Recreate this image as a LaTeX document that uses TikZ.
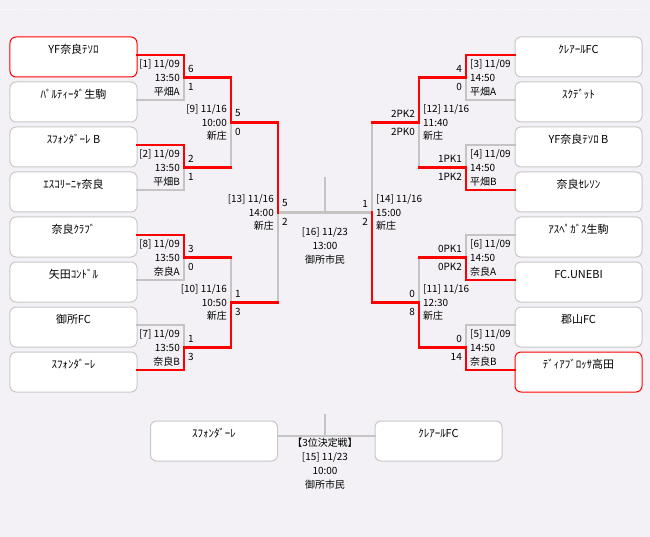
\documentclass[tikz,border=0pt]{standalone}
\usepackage{fontspec}
\newfontfamily\jp{Noto Sans CJK JP}
\definecolor{bg}{HTML}{F3F1F5}
\definecolor{bxgray}{HTML}{C8C8C8}
\definecolor{lngray}{HTML}{C4C4C4}
\definecolor{rd}{HTML}{FF0000}
\newcommand\mymatchL[4]{%
  \node[lblL] (m#1) at ([xshift=-4bp]j#1) {#2};
  \node[scW] (m#1a) at ([xshift=4bp,yshift=9bp]j#1) {#3};
  \node[scW] (m#1b) at ([xshift=4bp,yshift=-9.5bp]j#1) {#4};}
\newcommand\mymatchR[4]{%
  \node[lblR] (m#1) at ([xshift=4bp]j#1) {#2};
  \node[scE] (m#1a) at ([xshift=-4bp,yshift=9bp]j#1) {#3};
  \node[scE] (m#1b) at ([xshift=-4bp,yshift=-9.5bp]j#1) {#4};}
\begin{document}
\begin{tikzpicture}[x=1bp,y=-1bp,
  team/.style={draw=bxgray, fill=white, rounded corners=6bp, minimum width=127bp, minimum height=40bp, inner sep=0pt, line width=1bp},
  fin/.style={team, draw=rd},
  tname/.style={font=\jp\fontsize{11}{13}\selectfont, inner sep=0pt},
  lbl/.style={font=\jp\fontsize{10}{14}\selectfont, inner sep=0pt},
  lblL/.style={lbl, anchor=east, align=right},
  lblR/.style={lbl, anchor=west, align=left},
  lblC/.style={lbl, anchor=center, align=center},
  scW/.style={font=\jp\fontsize{10}{12}\selectfont, inner sep=0pt, anchor=west},
  scE/.style={font=\jp\fontsize{10}{12}\selectfont, inner sep=0pt, anchor=east},
  win/.style={draw=rd, line width=2.5bp, line cap=rect},
  lose/.style={draw=lngray, line width=2.5bp, line cap=rect},
]
\useasboundingbox (0,0) rectangle (650,537);
\fill[bg] (0,0) rectangle (650,537);
\draw[white, line width=1bp, dash pattern=on 1bp off 2bp] (0,9.5) -- (650,9.5);

% left teams
\node[fin]  (L1) at (73.5,57) {};
\node[team] (L2) at (73.5,102) {};
\node[team] (L3) at (73.5,147) {};
\node[team] (L4) at (73.5,192) {};
\node[team] (L5) at (73.5,237) {};
\node[team] (L6) at (73.5,282) {};
\node[team] (L7) at (73.5,327) {};
\node[team] (L8) at (73.5,372) {};
% right teams
\node[team] (R1) at (578.5,57) {};
\node[team] (R2) at (578.5,102) {};
\node[team] (R3) at (578.5,147) {};
\node[team] (R4) at (578.5,192) {};
\node[team] (R5) at (578.5,237) {};
\node[team] (R6) at (578.5,282) {};
\node[team] (R7) at (578.5,327) {};
\node[fin]  (R8) at (578.5,372) {};

\node[tname] (L1n) at ([yshift=-13bp]L1.north) {YF奈良ﾃｿﾛ};
\node[tname] (L2n) at ([yshift=-13bp]L2.north) {ﾊﾟﾙﾃｨｰﾀﾞ生駒};
\node[tname] (L3n) at ([yshift=-13bp]L3.north) {ｽﾌｫﾝﾀﾞｰﾚ B};
\node[tname] (L4n) at ([yshift=-13bp]L4.north) {ｴｽｺﾘｰﾆｬ奈良};
\node[tname] (L5n) at ([yshift=-13bp]L5.north) {奈良ｸﾗﾌﾞ};
\node[tname] (L6n) at ([yshift=-13bp]L6.north) {矢田ｺﾝﾄﾞﾙ};
\node[tname] (L7n) at ([yshift=-13bp]L7.north) {御所FC};
\node[tname] (L8n) at ([yshift=-13bp]L8.north) {ｽﾌｫﾝﾀﾞｰﾚ};
\node[tname] (R1n) at ([yshift=-13bp]R1.north) {ｸﾚｱｰﾙFC};
\node[tname] (R2n) at ([yshift=-13bp]R2.north) {ｽｸﾃﾞｯﾄ};
\node[tname] (R3n) at ([yshift=-13bp]R3.north) {YF奈良ﾃｿﾛ B};
\node[tname] (R4n) at ([yshift=-13bp]R4.north) {奈良ｾﾚｿﾝ};
\node[tname] (R5n) at ([yshift=-13bp]R5.north) {ｱｽﾍﾟｶﾞｽ生駒};
\node[tname] (R6n) at ([yshift=-13bp]R6.north) {FC.UNEBI};
\node[tname] (R7n) at ([yshift=-13bp]R7.north) {郡山FC};
\node[tname] (R8n) at ([yshift=-13bp]R8.north) {ﾃﾞｨｱﾌﾞﾛｯｻ高田};

% junctions
\coordinate (j1) at (184,77.5);
\coordinate (j2) at (184,167.5);
\coordinate (j8) at (184,257.5);
\coordinate (j7) at (184,347.5);
\coordinate (j9) at (231,122.5);
\coordinate (j10) at (231,302.5);
\coordinate (j13) at (278,212.5);
\coordinate (j16) at (325,212.5);
\coordinate (j16top) at (325,178);
\coordinate (j3) at (466,77.5);
\coordinate (j4) at (466,167.5);
\coordinate (j6) at (466,257.5);
\coordinate (j5) at (466,347.5);
\coordinate (j12) at (419,122.5);
\coordinate (j11) at (419,302.5);
\coordinate (j14) at (372,212.5);

% losing / unplayed lines
\draw[lose] ([yshift=2bp]L2.east) -| (j1);
\draw[lose] ([yshift=2bp]L4.east) -| (j2);
\draw[lose] (j2 -| j9) -- (j9);
\draw[lose] ([yshift=2bp]L6.east) -| (j8);
\draw[lose] ([yshift=2bp]L7.east) -| (j7);
\draw[lose] (j8 -| j10) -- (j10);
\draw[lose] (j10 -| j13) -- (j13);
\draw[lose] (j13) -- (j16) -- (j14);
\draw[lose] (j16) -- (j16top);
\draw[lose] ([yshift=2bp]R2.west) -| (j3);
\draw[lose] ([yshift=2bp]R3.west) -| (j4);
\draw[lose] (j4 -| j12) -- (j12);
\draw[lose] ([yshift=2bp]R5.west) -| (j6);
\draw[lose] ([yshift=2bp]R7.west) -| (j5);
\draw[lose] (j6 -| j11) -- (j11);
\draw[lose] (j12 -| j14) -- (j14);

% winning lines
\draw[win] ([yshift=2bp]L1.east) -| (j1) -| (j9) -| (j13);
\draw[win] ([yshift=2bp]L3.east) -| (j2) -- (j2 -| j9);
\draw[win] ([yshift=2bp]L5.east) -| (j8) -- (j8 -| j10);
\draw[win] ([yshift=2bp]L8.east) -| (j7) -| (j10) -- (j10 -| j13);
\draw[win] ([yshift=2bp]R1.west) -| (j3) -| (j12) -- (j12 -| j14);
\draw[win] ([yshift=2bp]R4.west) -| (j4) -- (j4 -| j12);
\draw[win] ([yshift=2bp]R6.west) -| (j6) -- (j6 -| j11);
\draw[win] ([yshift=2bp]R8.west) -| (j5) -| (j11) -| (j14);

% match labels and scores
\mymatchL{1}{[1] 11/09\\13:50\\平畑A}{6}{1}
\mymatchL{2}{[2] 11/09\\13:50\\平畑B}{2}{1}
\mymatchL{8}{[8] 11/09\\13:50\\奈良A}{3}{0}
\mymatchL{7}{[7] 11/09\\13:50\\奈良B}{1}{3}
\mymatchL{9}{[9] 11/16\\10:00\\新庄}{5}{0}
\mymatchL{10}{[10] 11/16\\10:50\\新庄}{1}{3}
\mymatchL{13}{[13] 11/16\\14:00\\新庄}{5}{2}
\mymatchR{3}{[3] 11/09\\14:50\\平畑A}{4}{0}
\mymatchR{4}{[4] 11/09\\14:50\\平畑B}{1PK1}{1PK2}
\mymatchR{6}{[6] 11/09\\14:50\\奈良A}{0PK1}{0PK2}
\mymatchR{5}{[5] 11/09\\14:50\\奈良B}{0}{14}
\mymatchR{12}{[12] 11/16\\11:40\\新庄}{2PK2}{2PK0}
\mymatchR{11}{[11] 11/16\\12:30\\新庄}{0}{8}
\mymatchR{14}{[14] 11/16\\15:00\\新庄}{1}{2}
\node[lblC] (m16) at ([yshift=-33.5bp]j16) {[16] 11/23\\13:00\\御所市民};

% third place match
\node[team] (T1) at (214,441) {};
\node[team] (T2) at (438.5,441) {};
\node[tname] (T1n) at ([yshift=-12.5bp]T1.north) {ｽﾌｫﾝﾀﾞｰﾚ};
\node[tname] (T2n) at ([yshift=-12.5bp]T2.north) {ｸﾚｱｰﾙFC};
\coordinate (t3) at (325,436);
\coordinate (t3top) at (325,415);
\draw[lose] ([yshift=5bp]T1.east) -- ([yshift=5bp]T2.west);
\draw[lose] (t3) -- (t3top);
\node[lblC] (m15) at (325,464) {【3位決定戦】\\{}[15] 11/23\\10:00\\御所市民};
\end{tikzpicture}
\end{document}
